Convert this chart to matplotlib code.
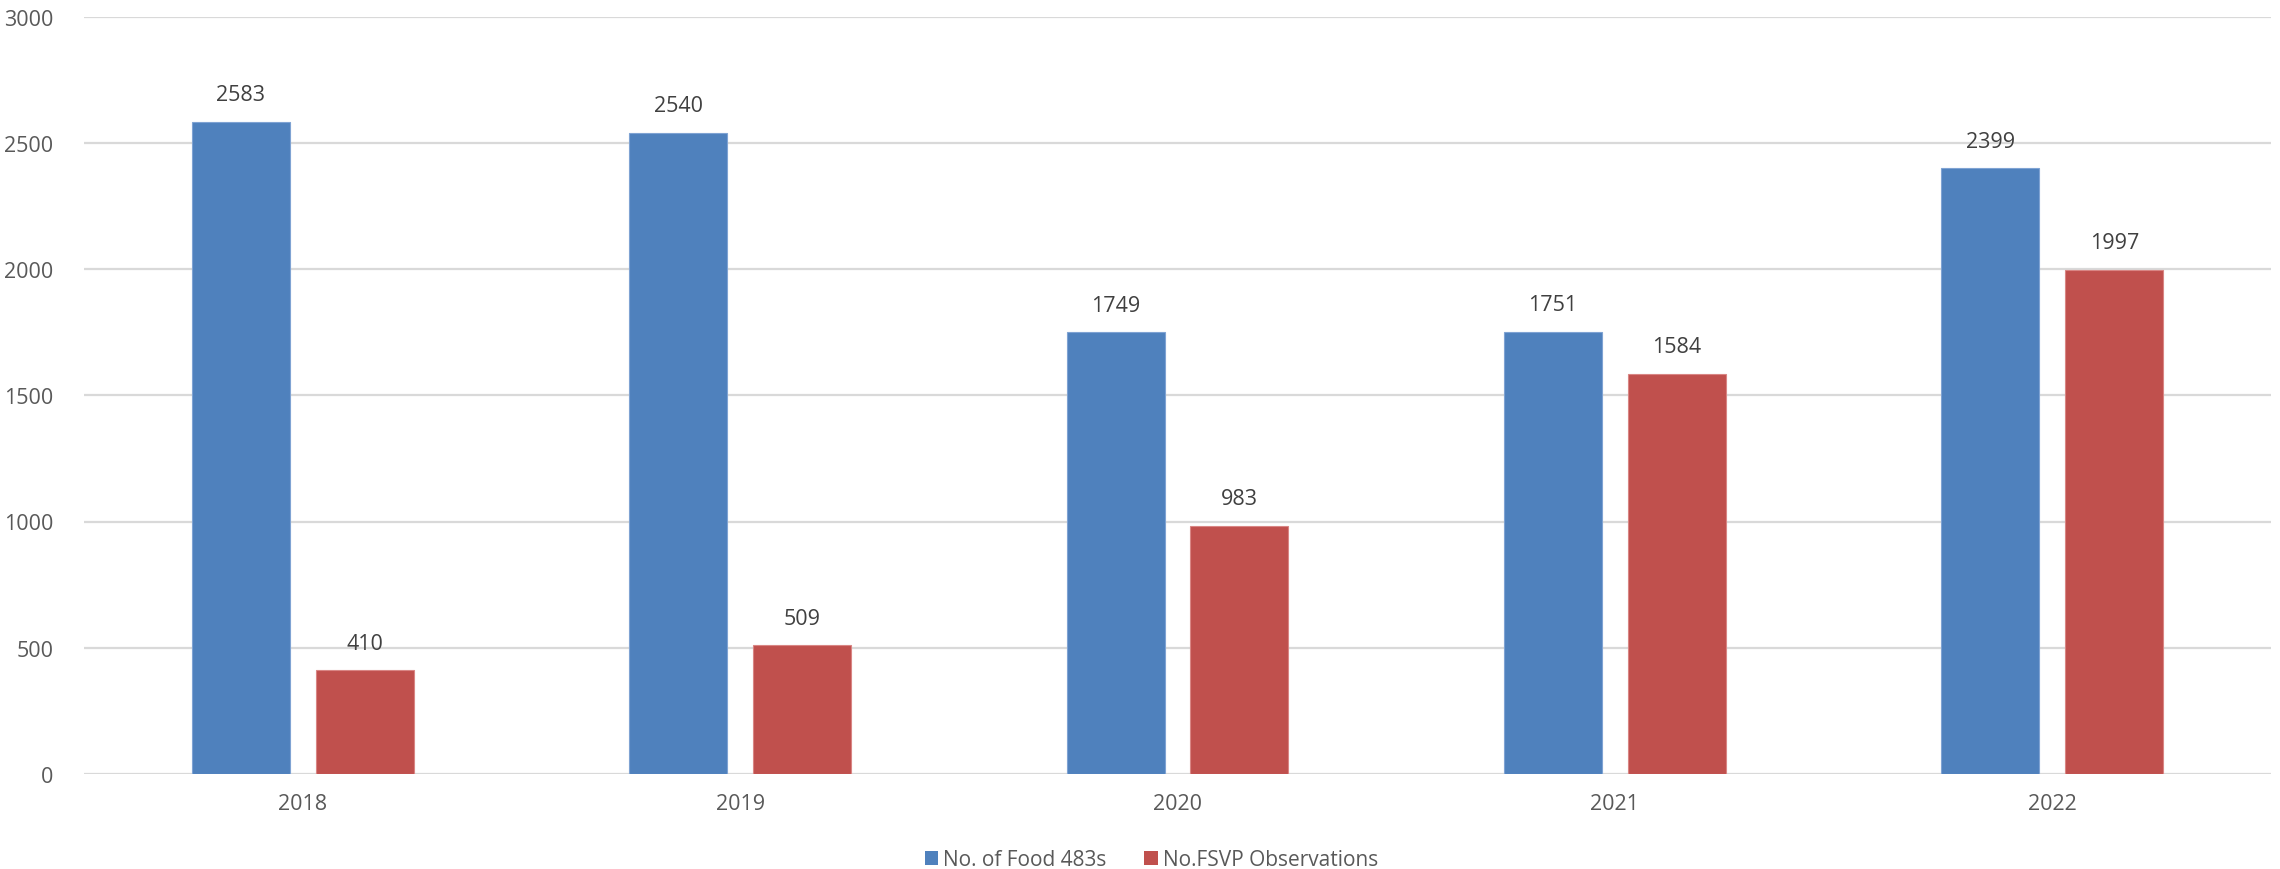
import matplotlib
matplotlib.use("Agg")
import matplotlib.pyplot as plt
import numpy as np
from matplotlib.patches import Patch

years = ["2018", "2019", "2020", "2021", "2022"]
food_483s = [2583, 2540, 1749, 1751, 2399]
fsvp_obs = [410, 509, 983, 1584, 1997]
series_names = ["No. of Food 483s", "No.FSVP Observations"]
yticks = [0, 500, 1000, 1500, 2000, 2500, 3000]

BLUE = "#4F81BD"
RED = "#C0504D"
FONT = ["Open Sans", "DejaVu Sans"]
plt.rcParams["font.family"] = FONT
FS = 15.5

fig = plt.figure(figsize=(22.8, 8.7), dpi=100)
ax = fig.add_axes([84 / 2280, 1 - 775 / 870, (2271 - 84) / 2280, (775 - 17.5) / 870])

x = np.arange(len(years))
w = 0.224
off = 0.1417
b1 = ax.bar(x - off, food_483s, width=w, color=BLUE, edgecolor="#7FA3D3", linewidth=0.8, zorder=3)
b2 = ax.bar(x + off, fsvp_obs, width=w, color=RED, edgecolor="#D98684", linewidth=0.8, zorder=3)

for bars, vals in ((b1, food_483s), (b2, fsvp_obs)):
    for r, v in zip(bars, vals):
        ax.annotate(str(v), (r.get_x() + r.get_width() / 2, v), xytext=(0, 12),
                    textcoords="offset points", ha="center", va="bottom",
                    fontsize=FS, color="#404040", zorder=4)

ax.set_xlim(-0.5, len(years) - 0.5)
ax.set_ylim(0, 3000)
ax.set_yticks(yticks)
ax.set_yticklabels([str(t) for t in yticks])
ax.set_xticks(x)
ax.set_xticklabels(years)
ax.tick_params(axis="both", length=0, labelsize=FS, colors="#595959")
ax.tick_params(axis="y", pad=22)
ax.tick_params(axis="x", pad=14)
ax.yaxis.grid(True, color="#D9D9D9", linewidth=1.6, zorder=0)
ax.set_axisbelow(True)
for s in ax.spines.values():
    s.set_visible(False)

handles = [Patch(facecolor=BLUE), Patch(facecolor=RED)]
leg = fig.legend(handles, series_names, loc="center", bbox_to_anchor=(0.505, 0.011),
                 ncol=2, frameon=False, fontsize=15, handlelength=0.65, handleheight=0.65,
                 handletextpad=0.25, columnspacing=1.8)
for t in leg.get_texts():
    t.set_color("#595959")

fig.savefig("out.png", dpi=100)
